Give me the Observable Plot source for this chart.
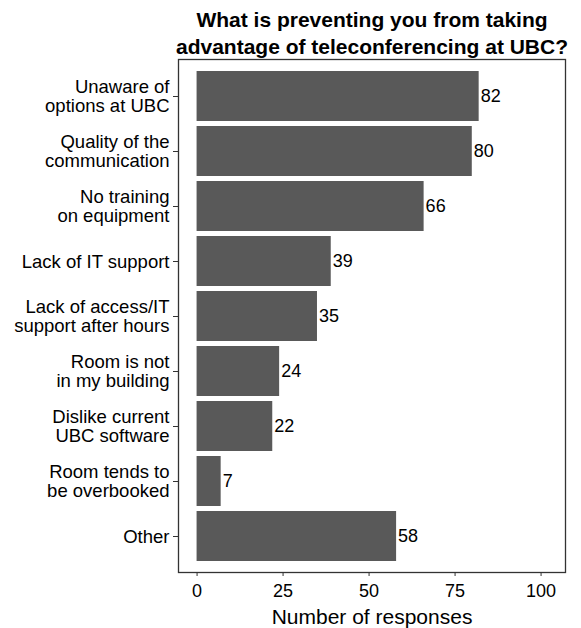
<!DOCTYPE html>
<html><head><meta charset="utf-8">
<script src="https://cdn.jsdelivr.net/npm/d3@7"></script>
<script src="https://cdn.jsdelivr.net/npm/@observablehq/plot@0.6"></script>
<style>
body{margin:0;background:#fff;font-family:"Liberation Sans",Arial,sans-serif;}
#wrap{position:relative;width:581px;height:628px;overflow:hidden;}
#title{position:relative;height:50px;}
#title div{position:absolute;left:372px;top:6px;transform:translateX(-50%);white-space:nowrap;text-align:center;font-weight:bold;font-size:21px;line-height:27px;color:#000;}
#chart svg{display:block;}
</style></head>
<body><div id="wrap">
<div id="title"><div>What is preventing you from taking<br>advantage of teleconferencing at UBC?</div></div>
<div id="chart"></div>
</div>
<script>
const categories = ["Unaware of\noptions at UBC", "Quality of the\ncommunication", "No training\non equipment", "Lack of IT support", "Lack of access/IT\nsupport after hours", "Room is not\nin my building", "Dislike current\nUBC software", "Room tends to\nbe overbooked", "Other"];
const responses = [82, 80, 66, 39, 35, 24, 22, 7, 58];
const xTicks = [0, 25, 50, 75, 100];
const xLabel = "Number of responses";

const data = categories.map((c, i) => ({category: c, n: responses[i]}));

const chart = Plot.plot({
  width: 581,
  height: 578,
  marginLeft: 178,
  marginRight: 16,
  marginTop: 9,
  marginBottom: 56,
  style: {fontFamily: "Liberation Sans, Arial, sans-serif", fontSize: "18px", color: "#000", background: "#fff"},
  x: {domain: [-5.4, 107.1]},
  y: {type: "band", domain: categories, paddingInner: 0.1, paddingOuter: 0.15},
  marks: [
    Plot.barX(data, {x: "n", y: "category", fill: "#595959", inset: 0}),
    Plot.text(data, {x: "n", y: "category", text: d => String(d.n), textAnchor: "start", dx: 1.5, fontSize: 18, fill: "#000"}),
    Plot.frame({stroke: "#333", strokeWidth: 1.3}),
    Plot.axisY({tickSize: 5, tickPadding: 4, fontSize: 18.5, lineHeight: 1.04, label: null, stroke: "#333", fill: "#000"}),
    Plot.axisX({ticks: xTicks, tickSize: 4, tickPadding: 7.5, fontSize: 18, label: null, stroke: "#333", fill: "#000"}),
    Plot.text([xLabel], {frameAnchor: "bottom", dy: 45, fontSize: 21, fill: "#000", lineAnchor: "middle"})
  ]
});
document.getElementById("chart").appendChild(chart);
</script>
</body></html>
